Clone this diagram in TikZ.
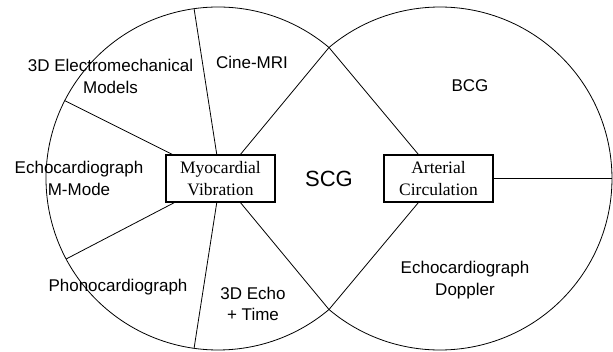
\documentclass[tikz,border=0pt]{standalone}
\usepackage{fontspec}
\setmainfont{Liberation Sans}
\newfontfamily\boxfont{Liberation Serif}
\usetikzlibrary{calc}

\begin{document}
\begin{tikzpicture}[x=1pt, y=1pt,
    region/.style={align=center, font=\fontsize{17}{21.5}\selectfont},
    source/.style={draw, line width=1.2pt, minimum width=109pt, minimum height=47pt,
        inner sep=0pt, align=center, font=\boxfont\fontsize{17.5}{22}\selectfont},
    spoke/.style={line width=0.8pt}]
    \useasboundingbox (0,0) rectangle (613,351);

    % Define coordinates
    \coordinate (LC) at (218,172.5);
    \coordinate (RC) at (440,172.5);
    \coordinate (Top) at ($(LC)+(49.81:172 and 171.5)$);
    \coordinate (Bot) at ($(LC)+(-49.81:172 and 171.5)$);
    \coordinate (E1) at ($(LC)+(98:172 and 171.5)$);
    \coordinate (E2) at ($(LC)+(153:172 and 171.5)$);
    \coordinate (E3) at ($(LC)+(208:172 and 171.5)$);
    \coordinate (E4) at ($(LC)+(262:172 and 171.5)$);
    \coordinate (E5) at ($(RC)+(0:172 and 171.5)$);

    % Draw the two domains (outer arcs only)
    \draw[spoke] (Top) arc[start angle=49.81, end angle=310.19, x radius=172, y radius=171.5];
    \draw[spoke] (Bot) arc[start angle=-130.19, end angle=130.19, x radius=172, y radius=171.5];

    % Sources
    \node[source] (Myo) at (220.5,172.5) {Myocardial\\Vibration};
    \node[source] (Art) at (438.5,172.5) {Arterial\\Circulation};

    % Draw spokes
    \draw[spoke] (Myo) -- (E1);
    \draw[spoke] (Myo) -- (E2);
    \draw[spoke] (Myo) -- (E3);
    \draw[spoke] (Myo) -- (E4);
    \draw[spoke] (Myo) -- (Top);
    \draw[spoke] (Myo) -- (Bot);
    \draw[spoke] (Art) -- (Top);
    \draw[spoke] (Art) -- (Bot);
    \draw[spoke] (Art) -- (E5);

    % Annotate the regions
    \node[region] (Model) at (110.5,274.5) {3D Electromechanical\\Models};
    \node[region] (Cine) at (252,288.5) {Cine-MRI};
    \node[region] (MMode) at (79,172.5) {Echocardiograph\\M-Mode};
    \node[region] (Phono) at (118,64) {Phonocardiograph};
    \node[region] (Echo3D) at (253,47) {3D Echo\\+ Time};
    \node[region] (BCG) at (470,265.5) {BCG};
    \node[region] (Doppler) at (465,71) {Echocardiograph\\Doppler};
    \node[region, font=\fontsize{22}{26}\selectfont] (SCG) at (329,172.5) {SCG};
\end{tikzpicture}
\end{document}
